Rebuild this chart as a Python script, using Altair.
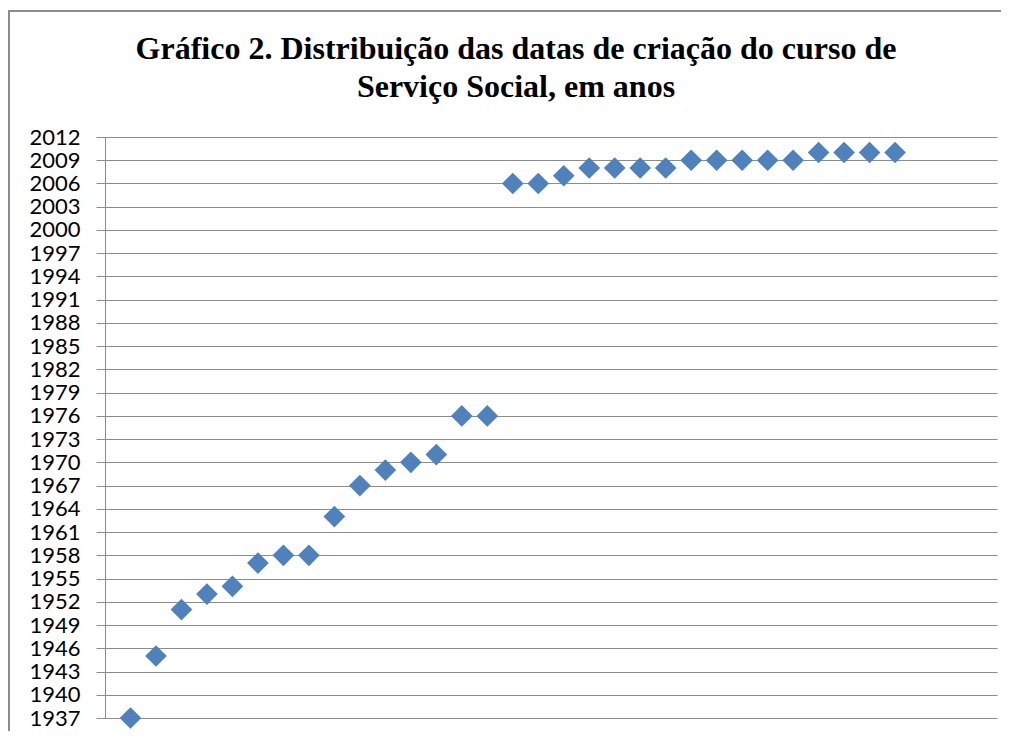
import altair as alt
import pandas as pd

indice = list(range(1, 32))
anos = [1937, 1945, 1951, 1953, 1954, 1957, 1958, 1958, 1963, 1967, 1969, 1970, 1971, 1976, 1976,
        2006, 2006, 2007, 2008, 2008, 2008, 2008, 2009, 2009, 2009, 2009, 2009, 2010, 2010, 2010, 2010]
ticks_y = list(range(1937, 2013, 3))
titulo = ["Gráfico 2. Distribuição das datas de criação do curso de", "Serviço Social, em anos"]

df = pd.DataFrame({"indice": indice, "ano": anos})
um = pd.DataFrame({"k": [0]})

W, H = 892, 581

pontos = alt.Chart(df).mark_point(shape="diamond", filled=True, size=470, color="#4F81BD", opacity=1).encode(
    x=alt.X("indice:Q", scale=alt.Scale(domain=[0, 35], nice=False, zero=False), axis=None),
    y=alt.Y("ano:Q", scale=alt.Scale(domain=[1937, 2012], nice=False, zero=False),
            axis=alt.Axis(values=ticks_y, title=None, format="d", labelFont="Lato", labelFontSize=22,
                          labelColor="#000000", labelPadding=16, tickSize=9, tickColor="#8c8c8c",
                          domainColor="#8c8c8c", gridColor="#8c8c8c", grid=True, labelOverlap=False,
                          labelBound=False, labelFlush=False)),
)

moldura = alt.Chart(um).mark_rect(filled=False, stroke="#8c8c8c", strokeWidth=2, clip=False).encode(
    x=alt.value(-96), x2=alt.value(W + 60), y=alt.value(-126), y2=alt.value(H + 80)
)

texto_titulo = alt.Chart(um).mark_text(font="Liberation Serif", fontSize=32, fontWeight="bold",
                                       color="#000000", align="center", baseline="alphabetic",
                                       lineHeight=38).encode(
    x=alt.value(W / 2 - 35), y=alt.value(-78), text=alt.value(titulo)
)

chart = alt.layer(pontos, moldura, texto_titulo).properties(
    width=W, height=H,
    autosize=alt.AutoSizeParams(type="none"),
    padding={"left": 97, "top": 129, "right": 4, "bottom": 13},
).configure_view(stroke=None)

chart.save("out.html", embed_options={"renderer": "svg", "actions": False})
